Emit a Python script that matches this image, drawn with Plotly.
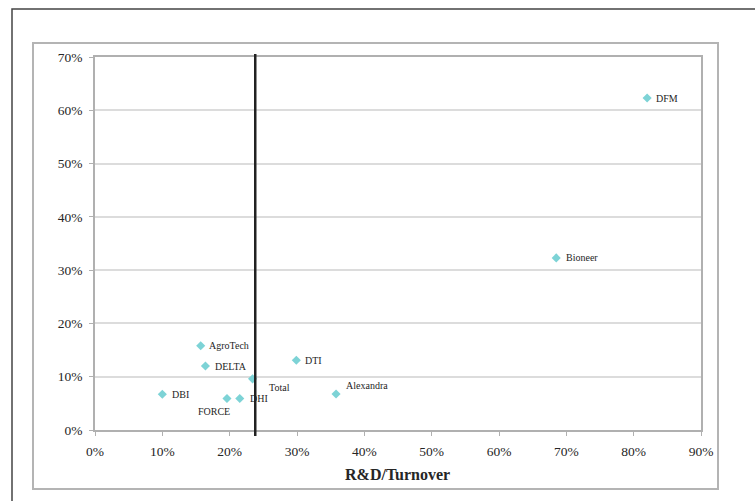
import plotly.graph_objects as go

# R&D intensity per institute
institutes = ["DFM", "Bioneer", "AgroTech", "DELTA", "DTI", "Total", "DBI", "FORCE", "DHI", "Alexandra"]
rd_turnover = [0.82, 0.685, 0.157, 0.164, 0.299, 0.234, 0.100, 0.196, 0.215, 0.358]
y_share = [0.623, 0.323, 0.158, 0.120, 0.131, 0.096, 0.067, 0.059, 0.059, 0.0675]
reference_x = 0.238

x_ticks = [i / 10 for i in range(10)]
y_ticks = [i / 10 for i in range(8)]

# label placement (pixel offsets from each marker) and anchors
label_dx = [7, 8, 6, 8, 7, 14, 8, 5, 8, 8]
label_dy = [0, 0, 0, 0, 0, 9, 0, 13, 0, -9]
label_anchor = ["left"] * 7 + ["right", "left", "left"]

FONT = "Liberation Serif"
TXT = "#262626"

fig = go.Figure()
fig.add_trace(go.Scatter(
    x=rd_turnover, y=y_share, mode="markers",
    marker=dict(symbol="diamond", size=7, color="#7DD3D6", line=dict(width=0)),
    hoverinfo="text", text=institutes, showlegend=False,
))

annotations = []
for name, xv, yv, dx, dy, anc in zip(institutes, rd_turnover, y_share, label_dx, label_dy, label_anchor):
    annotations.append(dict(
        x=xv, y=yv, xref="x", yref="y", text=name, showarrow=False,
        xanchor=anc, yanchor="middle", xshift=dx, yshift=-dy,
        font=dict(family=FONT, size=10, color="#1e1e1e"),
    ))

W, H = 755, 501
L, R, T, B = 95, 701, 57, 430


def px(xp):
    return (xp - L) / (R - L)


def py(yp):
    return (B - yp) / (B - T)


annotations.append(dict(
    x=px(397), y=py(474), xref="paper", yref="paper", text="<b>R&D/Turnover</b>",
    showarrow=False, xanchor="center", yanchor="middle",
    font=dict(family=FONT, size=16, color=TXT),
))

shapes = [
    # outer frame
    dict(type="path", xref="paper", yref="paper",
         path=f"M {px(12)} {py(505)} L {px(12)} {py(9)} L {px(760)} {py(9)}",
         line=dict(color="#444444", width=1.5)),
    # chart area frame
    dict(type="rect", xref="paper", yref="paper",
         x0=px(33), x1=px(718), y0=py(489), y1=py(43),
         line=dict(color="#b4b4b4", width=2)),
    # reference line
    dict(type="line", xref="x", yref="paper",
         x0=reference_x, x1=reference_x, y0=py(436), y1=py(54),
         line=dict(color="#222222", width=2.5)),
]

fig.update_layout(
    width=W, height=H,
    margin=dict(l=L, r=W - R, t=T, b=H - B),
    paper_bgcolor="white", plot_bgcolor="white",
    font=dict(family=FONT, size=12, color=TXT),
    annotations=annotations, shapes=shapes,
    xaxis=dict(
        range=[0, 0.9], tickvals=x_ticks, ticktext=[f"{int(round(v*100))}%" for v in x_ticks],
        showgrid=False, zeroline=False, showline=True, linecolor="#b0b0b0", linewidth=1.5, mirror=True,
        ticks="outside", ticklen=4, tickcolor="#b0b0b0", ticklabelstandoff=4,
        tickfont=dict(family=FONT, size=13.5, color=TXT),
    ),
    yaxis=dict(
        range=[0, 0.7], tickvals=y_ticks, ticktext=[f"{int(round(v*100))}%" for v in y_ticks],
        showgrid=True, gridcolor="#dcdcdc", gridwidth=1.5, zeroline=False,
        showline=True, linecolor="#b0b0b0", linewidth=1.5, mirror=True,
        ticks="outside", ticklen=4, tickcolor="#b0b0b0", ticklabelstandoff=4,
        tickfont=dict(family=FONT, size=13.5, color=TXT),
    ),
)

fig.write_html("out.html")
